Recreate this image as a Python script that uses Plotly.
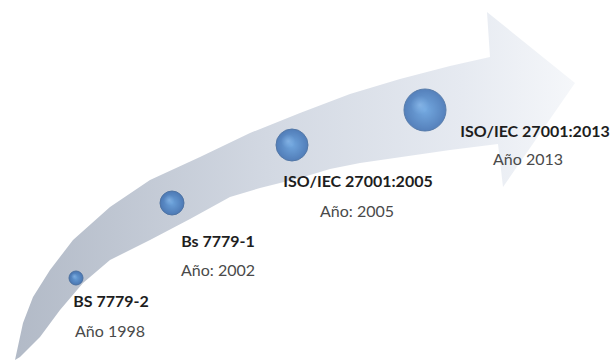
import plotly.graph_objects as go

# ---- data ----
standards = ["BS 7779-2", "Bs 7779-1", "ISO/IEC 27001:2005", "ISO/IEC 27001:2013"]
year_labels = ["Año 1998", "Año: 2002", "Año: 2005", "Año 2013"]
years = [1998, 2002, 2005, 2013]

# ---- layout helpers (pixel coordinate system) ----
sphere_x = [76, 172, 292, 425]
sphere_y = [278, 203, 145, 110]
sphere_d = [14, 24, 32, 42]

label_x = [111, 218, 358, 535]
label_y = [303, 243, 183, 133]
year_x = [110, 218, 357, 528]
year_y = [333, 272, 213, 161]

outer_x = [15, 17, 23, 33, 50, 73, 110, 150, 200, 250, 300, 350, 400, 450, 490]
outer_y = [360, 350, 323, 297, 270, 240, 207, 180, 157, 133, 113, 94, 79, 66, 57]
head_x = [487, 575, 503, 498]
head_y = [12, 83, 187, 144]
inner_x = [450, 400, 360, 330, 300, 260, 230, 190, 150, 110, 83, 60, 40, 20, 15]
inner_y = [150, 157, 163, 169, 178, 188, 197, 219, 240, 260, 283, 310, 337, 357, 360]

arrow_x = outer_x + head_x + inner_x
arrow_y = outer_y + head_y + inner_y

fig = go.Figure()

fig.add_trace(go.Scatter(
    x=arrow_x, y=arrow_y, mode="lines", fill="toself",
    line=dict(width=0, color="rgba(0,0,0,0)"),
    fillgradient=dict(
        type="horizontal",
        colorscale=[[0, "#b2bac7"], [0.45, "#d2d8e2"], [0.8, "#e6eaf1"], [1, "#f5f7fa"]],
        start=15, stop=575,
    ),
    hoverinfo="skip", showlegend=False,
))

# spheres
fig.add_trace(go.Scatter(
    x=sphere_x, y=sphere_y, mode="markers",
    marker=dict(size=sphere_d, color="#1a56a6",
                gradient=dict(type="radial", color="#4690dc"),
                line=dict(width=1, color="#1d4f8e")),
    hoverinfo="skip", showlegend=False,
))
# highlights
fig.add_trace(go.Scatter(
    x=[x - d * 0.12 for x, d in zip(sphere_x, sphere_d)],
    y=[y - d * 0.12 for y, d in zip(sphere_y, sphere_d)],
    mode="markers",
    marker=dict(size=[d * 0.45 for d in sphere_d], color="rgba(150,200,245,0.0)",
                gradient=dict(type="radial", color="rgba(175,215,255,0.55)"),
                line=dict(width=0)),
    hoverinfo="skip", showlegend=False,
))

# labels
fig.add_trace(go.Scatter(
    x=label_x, y=label_y, mode="text", text=[f"<b>{s}</b>" for s in standards],
    textfont=dict(family="Lato", size=16, color="#1e1e1e"),
    hoverinfo="skip", showlegend=False,
))
fig.add_trace(go.Scatter(
    x=year_x, y=year_y, mode="text", text=year_labels,
    textfont=dict(family="Lato", size=16, color="#4a4a4a"),
    hoverinfo="skip", showlegend=False,
))

fig.update_layout(
    width=612, height=360,
    margin=dict(l=0, r=0, t=0, b=0),
    paper_bgcolor="white", plot_bgcolor="white",
    xaxis=dict(range=[0, 612], visible=False, fixedrange=True),
    yaxis=dict(range=[360, 0], visible=False, fixedrange=True),
)

fig.write_html("out.html")
